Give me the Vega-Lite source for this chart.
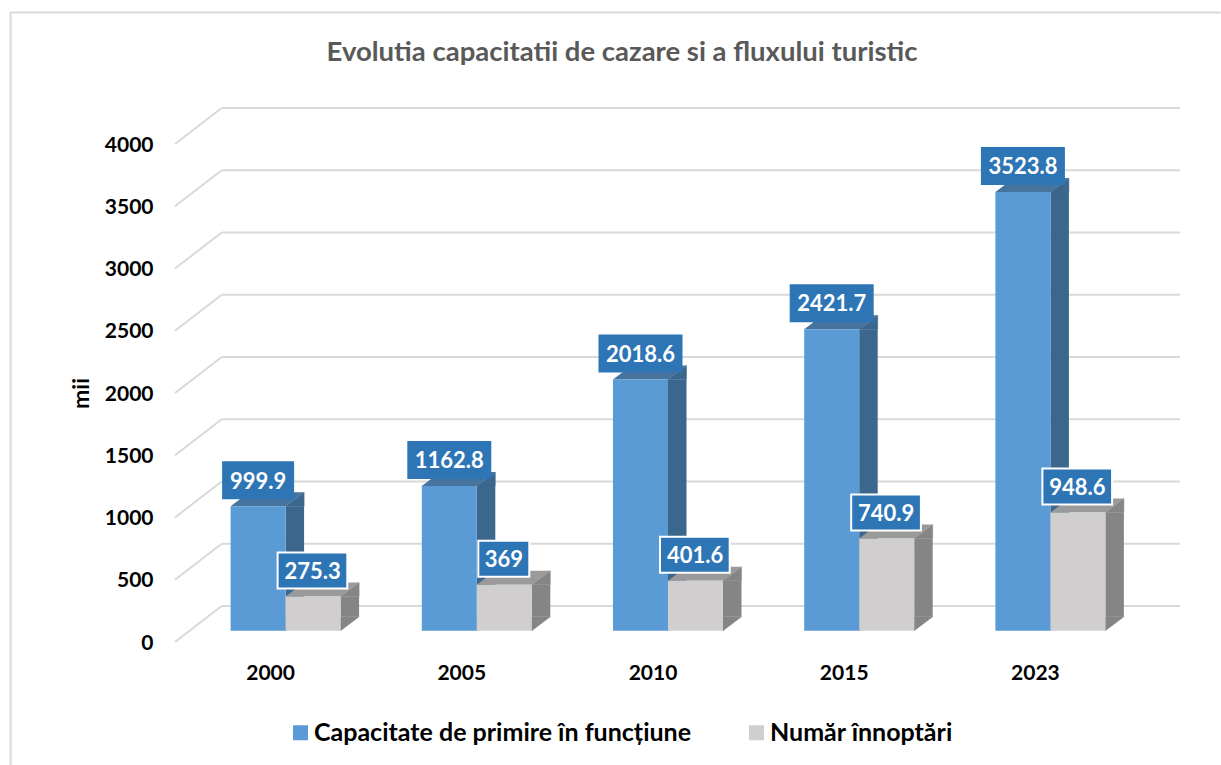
{
"$schema":"https://vega.github.io/schema/vega-lite/v6.json",
"autosize":"none","width":956,"height":498,
"padding":{"left":175,"top":144,"right":90,"bottom":123},
"background":"white",
"title":{"text":"Evolutia capacitatii de cazare si a fluxului turistic","font":"Lato","fontWeight":"bold","fontSize":27.5,"color":"#595959","anchor":"middle","dx":-31,"offset":0,"dy":58},
"config":{"view":{"stroke":null},"font":"Lato"},
"data":{"values":[
{"year":"2000","series":"Capacitate de primire în funcțiune","value":999.9},
{"year":"2005","series":"Capacitate de primire în funcțiune","value":1162.8},
{"year":"2010","series":"Capacitate de primire în funcțiune","value":2018.6},
{"year":"2015","series":"Capacitate de primire în funcțiune","value":2421.7},
{"year":"2023","series":"Capacitate de primire în funcțiune","value":3523.8},
{"year":"2000","series":"Număr înnoptări","value":275.3},
{"year":"2005","series":"Număr înnoptări","value":369},
{"year":"2010","series":"Număr înnoptări","value":401.6},
{"year":"2015","series":"Număr înnoptări","value":740.9},
{"year":"2023","series":"Număr înnoptări","value":948.6}
]},
"encoding":{
"x":{"field":"year","type":"nominal","scale":{"domain":["2000","2005","2010","2015","2023"],"paddingInner":0,"paddingOuter":0},
 "axis":{"title":null,"domain":false,"ticks":false,"labelAngle":0,"labelFont":"Lato","labelFontWeight":"bold","labelFontSize":21,"labelColor":"#000000","labelPadding":20,"grid":false}},
"y":{"field":"value","type":"quantitative","scale":{"domain":[0,4000],"nice":false},
 "axis":{"title":"mii","format":"d","titleFont":"Lato","titleFontWeight":"bold","titleFontSize":23,"titleColor":"#000000","titlePadding":11,"domain":false,"ticks":false,"grid":false,"values":[0,500,1000,1500,2000,2500,3000,3500,4000],"labelFont":"Lato","labelFontWeight":"bold","labelFontSize":21,"labelColor":"#000000","labelPadding":22,"labelOffset":1}}
},
"layer":[
{"data":{"values":[{"v":0}]},
 "mark":{"type":"point","shape":"M-260,123L-260,-629.5L950,-629.5","size":4,"filled":false,"stroke":"#D9D9D9","strokeWidth":2,"opacity":1},
 "encoding":{"x":{"datum":"2000"},"y":{"field":"v","type":"quantitative"}}},
{"data":{"values":[{"v":0},{"v":500},{"v":1000},{"v":1500},{"v":2000},{"v":2500},{"v":3000},{"v":3500},{"v":4000}]},
 "mark":{"type":"rule","stroke":"#D9D9D9","strokeWidth":2,"xOffset":47,"x2Offset":49,"yOffset":-36,"y2Offset":-36},
 "encoding":{"x":{"value":0},"x2":{"value":956},"y":{"field":"v","type":"quantitative"}}},
{"data":{"values":[{"v":0},{"v":500},{"v":1000},{"v":1500},{"v":2000},{"v":2500},{"v":3000},{"v":3500},{"v":4000}]},
 "mark":{"type":"point","shape":"M-95.6,0L-48.9,-36","size":4,"filled":false,"stroke":"#D9D9D9","strokeWidth":2,"opacity":1},
 "encoding":{"x":{"datum":"2000"},"y":{"field":"v","type":"quantitative"}}},

{"transform":[{"filter":"datum.series[0]=='C'"}],
 "mark":{"type":"bar","size":18.5,"xOffset":24.25,"yOffset":-11.3,"y2Offset":-25.3,"fill":"#3C678C"},
 "encoding":{"y2":{"datum":0}}},
{"transform":[{"filter":"datum.series[0]=='C'"}],
 "mark":{"type":"point","shape":"M15,-11.3L33.5,-25.3L33.5,-11.3Z","size":4,"filled":true,"fill":"#3C678C","stroke":"#3C678C","strokeWidth":0.5,"opacity":1}},
{"transform":[{"filter":"datum.series[0]=='C'"}],
 "mark":{"type":"point","shape":"M15,-11.3L33.5,-25.3L15,-25.3Z","size":4,"filled":true,"fill":"#3C678C","stroke":"#3C678C","strokeWidth":0.5,"opacity":1},
 "encoding":{"y":{"datum":0}}},
{"transform":[{"filter":"datum.series[0]=='C'"}],
 "mark":{"type":"point","shape":"M-40,-11.3L15,-11.3L33.5,-25.3L-21.5,-25.3Z","size":4,"filled":true,"fill":"#46749E","opacity":1}},

{"transform":[{"filter":"datum.series[0]=='N'"}],
 "mark":{"type":"bar","size":18.5,"xOffset":79.25,"yOffset":-11.3,"y2Offset":-25.3,"fill":"#858585"},
 "encoding":{"y2":{"datum":0}}},
{"transform":[{"filter":"datum.series[0]=='N'"}],
 "mark":{"type":"point","shape":"M70,-11.3L88.5,-25.3L88.5,-11.3Z","size":4,"filled":true,"fill":"#858585","stroke":"#858585","strokeWidth":0.5,"opacity":1}},
{"transform":[{"filter":"datum.series[0]=='N'"}],
 "mark":{"type":"point","shape":"M70,-11.3L88.5,-25.3L70,-25.3Z","size":4,"filled":true,"fill":"#858585","stroke":"#858585","strokeWidth":0.5,"opacity":1},
 "encoding":{"y":{"datum":0}}},
{"transform":[{"filter":"datum.series[0]=='N'"}],
 "mark":{"type":"point","shape":"M15,-11.3L70,-11.3L88.5,-25.3L33.5,-25.3Z","size":4,"filled":true,"fill":"#9A9A9A","opacity":1}},

{"transform":[{"filter":"datum.series[0]=='C'"}],
 "mark":{"type":"bar","size":55,"xOffset":-12.5,"yOffset":-11.3,"y2Offset":-11.3},
 "encoding":{"y2":{"datum":0},"fill":{"field":"series","type":"nominal","scale":{"domain":["Capacitate de primire în funcțiune","Număr înnoptări"],"range":["#5B9BD5","#D0CECE"]},
  "legend":{"title":null,"orient":"none","legendX":113,"legendY":576,"direction":"horizontal","columns":2,"columnPadding":52,"padding":0,"symbolType":"square","symbolSize":225,"symbolStrokeWidth":0,"symbolOpacity":1,"labelFont":"Lato","labelFontWeight":"bold","labelFontSize":25,"labelColor":"#000000","labelLimit":500,"labelOffset":1}}}},
{"transform":[{"filter":"datum.series[0]=='N'"}],
 "mark":{"type":"bar","size":55,"xOffset":42.5,"yOffset":-11.3,"y2Offset":-11.3},
 "encoding":{"y2":{"datum":0},"fill":{"field":"series","type":"nominal"}}},

{"transform":[{"filter":"datum.series[0]=='C' && length(''+datum.value)<6"}],
 "mark":{"type":"point","shape":"M-48.5,-56.3L23.5,-56.3L23.5,-18.3L-48.5,-18.3Z","size":4,"filled":true,"fill":"#2E75B6","opacity":1}},
{"transform":[{"filter":"datum.series[0]=='C' && length(''+datum.value)>=6"}],
 "mark":{"type":"point","shape":"M-54.5,-56.3L29.5,-56.3L29.5,-18.3L-54.5,-18.3Z","size":4,"filled":true,"fill":"#2E75B6","opacity":1}},
{"transform":[{"filter":"datum.series[0]=='N' && length(''+datum.value)>3"}],
 "mark":{"type":"point","shape":"M7,-55.3L76.7,-55.3L76.7,-19.3L7,-19.3Z","size":4,"filled":true,"fill":"#2E75B6","stroke":"#FFFFFF","strokeWidth":2,"opacity":1}},
{"transform":[{"filter":"datum.series[0]=='N' && length(''+datum.value)<=3"}],
 "mark":{"type":"point","shape":"M16.5,-55.3L67.5,-55.3L67.5,-19.3L16.5,-19.3Z","size":4,"filled":true,"fill":"#2E75B6","stroke":"#FFFFFF","strokeWidth":2,"opacity":1}},
{"transform":[{"filter":"datum.series[0]=='C'"}],
 "mark":{"type":"text","font":"Lato","fontWeight":"bold","fontSize":22,"fill":"#FFFFFF","xOffset":-12.5,"yOffset":-36,"align":"center","baseline":"middle"},
 "encoding":{"text":{"field":"value","type":"quantitative"}}},
{"transform":[{"filter":"datum.series[0]=='N'"}],
 "mark":{"type":"text","font":"Lato","fontWeight":"bold","fontSize":22,"fill":"#FFFFFF","xOffset":42,"yOffset":-36,"align":"center","baseline":"middle"},
 "encoding":{"text":{"field":"value","type":"quantitative"}}}
]
}
